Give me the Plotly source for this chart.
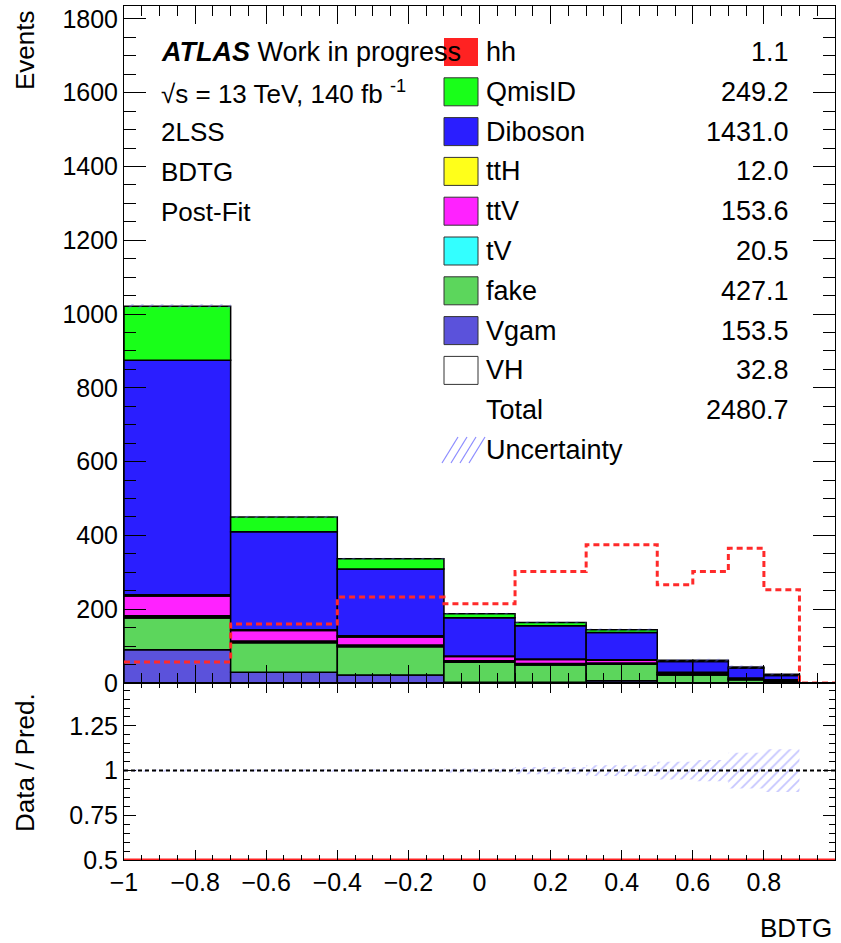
import numpy as np
import plotly.graph_objects as go
from plotly.subplots import make_subplots

# binning of the BDTG score
edges = [-1.0, -0.7, -0.4, -0.1, 0.1, 0.3, 0.5, 0.6, 0.7, 0.8, 0.9, 1.0]

# post-fit background yields per bin (stack order, bottom -> top)
vgam = [90, 29, 22, 2, 2, 6, 1, 1, 0.5, 0.3, 0]
fake = [86, 80, 76, 54, 47, 45, 21, 21, 8, 4, 0]
vh = [2, 2, 2, 2, 2, 2, 1, 1, 1, 0.5, 0]
tv = [4, 3, 3, 2, 2, 1, 1, 1, 0.5, 0.5, 0]
ttv = [54, 28, 22, 12, 11, 8, 4, 4, 3, 3, 0]
tth = [3, 2, 3, 1, 1, 1, 1, 1, 0.5, 0.3, 0]
diboson = [636, 266, 181, 104, 90, 74, 29, 29, 27, 12, 0]
qmisid = [146, 40, 28, 11, 9, 7, 4, 4, 3, 3, 0]

# hh signal (scaled, dashed line)
hh_scaled = [57, 160, 233, 215, 302, 375, 266, 302, 365, 253, 0]

# relative uncertainty on total prediction
rel_unc = [0.006, 0.007, 0.008, 0.012, 0.02, 0.03, 0.05, 0.06, 0.1, 0.12, 0]

# data / prediction (no data, clipped to the axis floor)
ratio_floor = [0.5] * 11

# legend
leg_names = ["hh", "QmisID", "Diboson", "ttH", "ttV", "tV", "fake", "Vgam", "VH"]
leg_yields = [1.1, 249.2, 1431.0, 12.0, 153.6, 20.5, 427.1, 153.5, 32.8]
total_yield = 2480.7

colors = {
    "hh": "#ff2222", "QmisID": "#19ff19", "Diboson": "#2a1eff", "ttH": "#ffff1a",
    "ttV": "#ff22ff", "tV": "#33ffff", "fake": "#5cd65c", "Vgam": "#5b52db", "VH": "#ffffff",
}

stack = [("Vgam", vgam), ("fake", fake), ("VH", vh), ("tV", tv), ("ttV", ttv),
         ("ttH", tth), ("Diboson", diboson), ("QmisID", qmisid)]

e = np.array(edges)
centers = 0.5 * (e[:-1] + e[1:])
widths = e[1:] - e[:-1]

FONT = "Liberation Sans, Arial, sans-serif"

fig = make_subplots(rows=2, cols=1, shared_xaxes=True, vertical_spacing=0,
                    row_heights=[677 / 854, 177 / 854])

base = np.zeros(len(centers))
for name, vals in stack:
    v = np.array(vals, dtype=float)
    fig.add_trace(go.Bar(x=centers, y=v, base=base, width=widths, name=name,
                         marker=dict(color=colors[name], line=dict(color="black", width=1.5)),
                         showlegend=False), row=1, col=1)
    base = base + v
total = base

hatch = dict(shape="/", fgcolor="rgba(110,110,255,0.8)", bgcolor="rgba(0,0,0,0)",
             size=7, solidity=0.25)

# uncertainty band on top of the stack
r = np.array(rel_unc)
fig.add_trace(go.Bar(x=centers, y=2 * total * r, base=total * (1 - r), width=widths,
                     marker=dict(color="rgba(0,0,0,0)", line=dict(width=0), pattern=hatch),
                     showlegend=False), row=1, col=1)

# hh signal dashed step line
hh = list(hh_scaled) + [hh_scaled[-1]]
fig.add_trace(go.Scatter(x=edges, y=hh, mode="lines", line_shape="hv",
                         line=dict(color="#ff2a2a", width=3, dash="6px,4px"),
                         showlegend=False), row=1, col=1)

# ratio panel
fig.add_trace(go.Bar(x=centers, y=2 * r, base=1 - r, width=widths,
                     marker=dict(color="rgba(0,0,0,0)", line=dict(width=0), pattern=hatch),
                     showlegend=False), row=2, col=1)
fig.add_trace(go.Scatter(x=[edges[0], edges[-1]], y=[1, 1], mode="lines",
                         line=dict(color="black", width=2, dash="4px,3px"),
                         showlegend=False), row=2, col=1)
rf = list(ratio_floor) + [ratio_floor[-1]]
fig.add_trace(go.Scatter(x=edges, y=rf, mode="lines", line_shape="hv",
                         line=dict(color="#ff2222", width=3), showlegend=False), row=2, col=1)

axis_common = dict(showline=True, linecolor="black", linewidth=1, mirror="allticks",
                   ticks="inside", tickcolor="black", showgrid=False, zeroline=False,
                   automargin=False,
                   tickfont=dict(family=FONT, size=25, color="black"))

fig.update_xaxes(range=[-1, 1], tick0=-1, dtick=0.2, **axis_common)
fig.update_xaxes(ticklen=18, minor=dict(ticks="inside", ticklen=10, dtick=0.05, tickcolor="black"),
                 showticklabels=False, row=1, col=1)
fig.update_xaxes(ticklen=10, minor=dict(ticks="inside", ticklen=5, dtick=0.05, tickcolor="black"),
                 showticklabels=True, row=2, col=1)
fig.update_yaxes(range=[0, 1835], tick0=0, dtick=200, ticklen=22,
                 minor=dict(ticks="inside", ticklen=12, dtick=50, tickcolor="black"),
                 row=1, col=1, **axis_common)
fig.update_yaxes(range=[0.5, 1.49], tick0=0.5, dtick=0.25, ticklen=12,
                 minor=dict(ticks="inside", ticklen=6, dtick=0.05, tickcolor="black"),
                 row=2, col=1, **axis_common)


def px(x):
    return (x - 124) / 711


def py(y):
    return (860 - y) / 854


ann = []
txt = dict(family=FONT, size=26, color="black")
leg_txt = dict(family=FONT, size=27, color="black")


def label(x, y, text, xanchor="left", yanchor="middle", angle=0, font=txt):
    ann.append(dict(x=px(x), y=py(y), xref="paper", yref="paper", text=text,
                    showarrow=False, xanchor=xanchor, yanchor=yanchor,
                    textangle=angle, font=font))


label(25, 8, "Events", xanchor="center", yanchor="top", angle=-90)
label(25, 763, "Data / Pred.", xanchor="center", angle=-90)
label(834, 928, "BDTG", xanchor="right")

info = ["<b><i>ATLAS</i></b> Work in progress", "√s = 13 TeV, 140 fb <sup>-1</sup>",
        "2LSS", "BDTG", "Post-Fit"]
for i, t in enumerate(info):
    label(159, 52 + 40 * i, t, font=leg_txt if i == 0 else txt)

shapes = []
row_y = [52 + 39.8 * i for i in range(11)]
for i, name in enumerate(leg_names):
    yc = row_y[i]
    shapes.append(dict(type="rect", xref="paper", yref="paper",
                       x0=px(444), x1=px(478), y0=py(yc + 14), y1=py(yc - 14),
                       fillcolor=colors[name],
                       line=dict(color="#333333", width=1 if name != "hh" else 0),
                       layer="above"))
    label(484, yc, name, font=leg_txt)
    label(791, yc, f"{leg_yields[i]:.1f}", xanchor="right", font=leg_txt)
label(484, row_y[9], "Total", font=leg_txt)
label(791, row_y[9], f"{total_yield:.1f}", xanchor="right", font=leg_txt)
label(484, row_y[10], "Uncertainty", font=leg_txt)
# hatched legend marker
yc = row_y[10]
for k in range(4):
    x0 = 444 + k * 9
    shapes.append(dict(type="line", xref="paper", yref="paper",
                       x0=px(x0 - 2), y0=py(yc + 13), x1=px(x0 + 14), y1=py(yc - 13),
                       line=dict(color="rgba(110,110,255,0.8)", width=1.2)))

fig.update_layout(width=841, height=943, barmode="overlay",
                  margin=dict(l=124, r=6, t=6, b=83),
                  plot_bgcolor="white", paper_bgcolor="white",
                  annotations=ann, shapes=shapes, showlegend=False,
                  font=dict(family=FONT, color="black"))

# drop the browser's default page margin so the figure sits at the window origin
fig.write_html("out.html", config={"displayModeBar": False},
               post_script="document.body.style.margin='0px';")
